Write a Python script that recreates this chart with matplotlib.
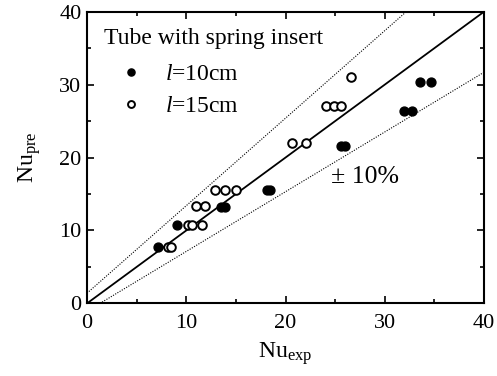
import numpy as np
import matplotlib.pyplot as plt
from matplotlib.ticker import MultipleLocator

plt.rcParams['font.family'] = ['Liberation Serif', 'DejaVu Serif']
plt.rcParams['mathtext.fontset'] = 'custom'
plt.rcParams['mathtext.rm'] = 'Liberation Serif'
plt.rcParams['mathtext.it'] = 'Liberation Serif:italic'

# l = 10 cm (filled)
nu_exp_10 = [7.2, 9.1, 13.5, 13.9, 18.1, 18.4, 25.6, 26.0, 31.9, 32.7, 33.5, 34.7]
nu_pre_10 = [7.7, 10.8, 13.2, 13.2, 15.5, 15.5, 21.6, 21.6, 26.4, 26.4, 30.4, 30.4]
# l = 15 cm (open)
nu_exp_15 = [8.2, 8.5, 10.2, 10.6, 11.6, 11.0, 11.9, 12.9, 13.9, 15.0,
             20.7, 22.1, 24.1, 24.9, 25.6, 26.6]
nu_pre_15 = [7.7, 7.7, 10.8, 10.8, 10.8, 13.3, 13.3, 15.6, 15.6, 15.6,
             22.0, 22.0, 27.0, 27.0, 27.0, 31.1]

# reference line and the drawn deviation lines
ref_x = [0, 40]
ref_y = [0, 40]
upper_x = [0, 40]
upper_y = [1.4, 49.4]
lower_x = [1.3, 40]
lower_y = [0, 31.7]

fig = plt.figure(figsize=(4.97, 3.76), dpi=100)
ax = fig.add_axes([0.175, 0.193, 0.799, 0.776])

ax.plot(ref_x, ref_y, color='black', lw=1.3)
ax.plot(upper_x, upper_y, color='black', lw=0.8, ls=(0, (1, 1.3)))
ax.plot(lower_x, lower_y, color='black', lw=0.8, ls=(0, (1, 1.3)))

ax.plot(nu_exp_10, nu_pre_10, 'o', color='black', ms=6.4, label=r'$l$=10cm')
ax.plot(nu_exp_15, nu_pre_15, 'o', mfc='white', mec='black', mew=1.4, ms=6.2,
        label=r'$l$=15cm')

ax.text(24.6, 16.5, '± 10%', fontsize=18.5)

ax.set_xlim(0, 40)
ax.set_ylim(0, 40)
ax.xaxis.set_major_locator(MultipleLocator(10))
ax.yaxis.set_major_locator(MultipleLocator(10))
ax.xaxis.set_minor_locator(MultipleLocator(5))
ax.yaxis.set_minor_locator(MultipleLocator(5))
ax.tick_params(which='both', direction='in', top=True, right=True, width=1.2)
ax.tick_params(which='major', length=5, labelsize=16)
ax.tick_params(which='minor', length=3)
ax.tick_params(axis='x', which='major', pad=7.5)
ax.tick_params(axis='y', which='major', pad=4)
for s in ax.spines.values():
    s.set_linewidth(1.5)

ax.set_xlabel(r'Nu$_{\mathrm{exp}}$', fontsize=17, labelpad=5)
ax.set_ylabel(r'Nu$_{\mathrm{pre}}$', fontsize=17, labelpad=11.5)

leg = ax.legend(title='Tube with spring insert', loc='upper left',
                bbox_to_anchor=(0.0, 1.0), frameon=False, fontsize=17,
                title_fontsize=17, alignment='left', markerscale=0.8,
                handlelength=2.3, handletextpad=0.3, labelspacing=0.42,
                borderaxespad=0.3)
# a bit more room between the title and the entries
leg._legend_box.sep += 3.5

fig.savefig('out.png', dpi=100)
